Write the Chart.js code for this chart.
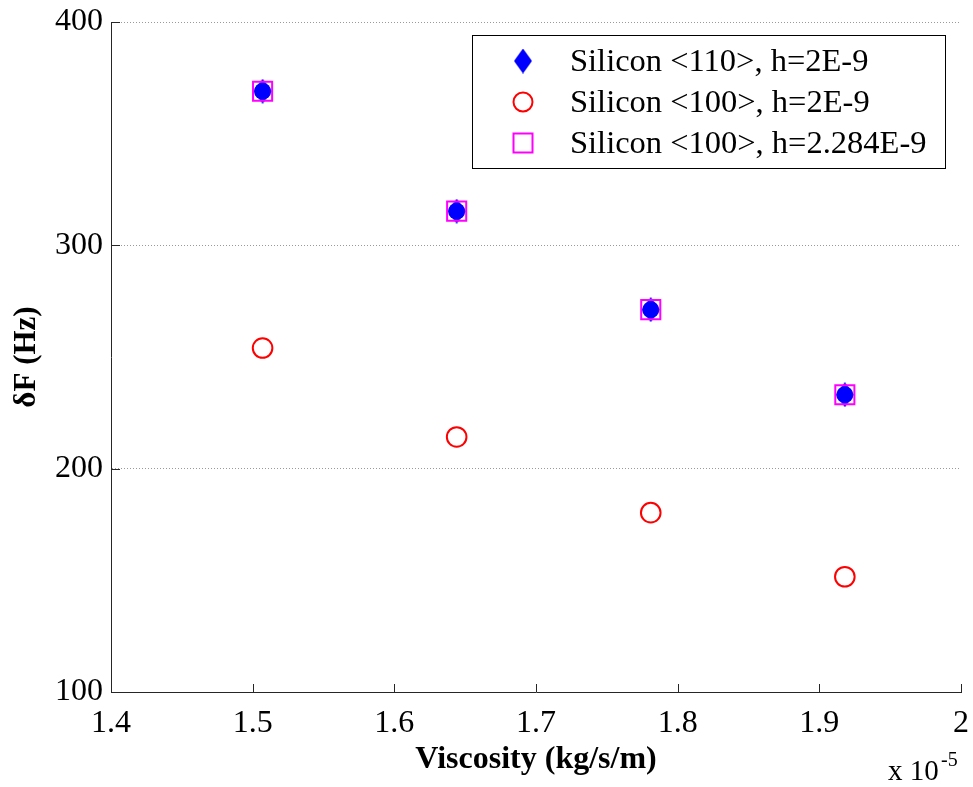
<!DOCTYPE html>
<html>
<head>
<meta charset="utf-8">
<script src="https://cdn.jsdelivr.net/npm/chart.js@4/dist/chart.umd.min.js"></script>
<style>
  html, body { margin: 0; padding: 0; background: #fff; }
  canvas { display: block; }
</style>
</head>
<body>
<canvas id="myChart" width="973" height="787"></canvas>
<script>
// viscosity in units of 1e-5 kg/s/m
var viscosity = [1.507, 1.644, 1.781, 1.918];
var si110 = [369, 315.3, 271.2, 233.1];
var si100 = [254, 214.2, 180.3, 151.6];
var si100b = [369, 315.3, 271.2, 233.1];
var seriesNames = ["Silicon <110>, h=2E-9", "Silicon <100>, h=2E-9", "Silicon <100>, h=2.284E-9"];
var xTicks = [1.4, 1.5, 1.6, 1.7, 1.8, 1.9, 2];
var yTicks = [100, 200, 300, 400];

var serif = "'Liberation Serif', 'Times New Roman', serif";

function toPoints(xs, ys) {
  var pts = [];
  for (var i = 0; i < xs.length; i++) {
    pts.push({x: xs[i], y: ys[i]});
  }
  return pts;
}

// tall blue diamond marker
function makeDiamond() {
  var c = document.createElement('canvas');
  c.width = 18;
  c.height = 25;
  var g = c.getContext('2d');
  g.fillStyle = '#0000ff';
  g.beginPath();
  g.moveTo(9, 0);
  g.lineTo(18, 12.5);
  g.lineTo(9, 25);
  g.lineTo(0, 12.5);
  g.closePath();
  g.fill();
  return c;
}
var diamond = makeDiamond();

// no extra room for overflowing tick labels, the area is fixed by layout padding
function noLabelPadding(scale) {
  scale.paddingTop = 0;
  scale.paddingBottom = 0;
  scale.paddingLeft = 0;
  scale.paddingRight = 0;
}

var insideTicks = {
  id: 'insideTicks',
  afterDraw: function(chart) {
    var ctx = chart.ctx;
    var xs = chart.scales.x, ys = chart.scales.y;
    var area = chart.chartArea;
    ctx.save();
    ctx.strokeStyle = '#262626';
    ctx.lineWidth = 1;
    ctx.beginPath();
    for (var i = 0; i < xTicks.length; i++) {
      var px = Math.round(xs.getPixelForValue(xTicks[i])) + 0.5;
      ctx.moveTo(px, area.bottom);
      ctx.lineTo(px, area.bottom - 8);
    }
    for (var j = 0; j < yTicks.length; j++) {
      var py = Math.round(ys.getPixelForValue(yTicks[j])) + 0.5;
      ctx.moveTo(area.left, py);
      ctx.lineTo(area.left + 9, py);
    }
    ctx.stroke();

    // exponent label
    ctx.fillStyle = '#000';
    ctx.textBaseline = 'alphabetic';
    ctx.textAlign = 'left';
    ctx.font = '29px ' + serif;
    ctx.fillText('x 10', 888, 780);
    ctx.font = '20px ' + serif;
    ctx.fillText('-5', 941, 766);

    // legend box
    var bx = 472, by = 35, bw = 473, bh = 133;
    ctx.fillStyle = '#fff';
    ctx.fillRect(bx, by, bw, bh);
    ctx.strokeStyle = '#000';
    ctx.strokeRect(bx + 0.5, by + 0.5, bw, bh);
    var rows = [61, 102, 143];
    var mx = 523;
    ctx.drawImage(diamond, mx - 9, rows[0] - 12.5);
    ctx.lineWidth = 2;
    ctx.strokeStyle = '#ff0000';
    ctx.beginPath();
    ctx.arc(mx, rows[1], 9.5, 0, Math.PI * 2);
    ctx.stroke();
    ctx.strokeStyle = '#ff00ff';
    ctx.strokeRect(mx - 9.5, rows[2] - 9.5, 19, 19);
    ctx.fillStyle = '#000';
    ctx.font = '32.5px ' + serif;
    ctx.textBaseline = 'middle';
    for (var k = 0; k < seriesNames.length; k++) {
      ctx.fillText(seriesNames[k], 570, rows[k] + 1);
    }
    ctx.restore();
  }
};

var ctx = document.getElementById('myChart');
var chart = new Chart(ctx, {
  type: 'scatter',
  data: {
    datasets: [{
      label: seriesNames[2],
      data: toPoints(viscosity, si100b),
      pointStyle: 'rect',
      pointRadius: 13.5,
      borderColor: '#ff00ff',
      backgroundColor: 'rgba(0,0,0,0)',
      borderWidth: 2,
      order: 0
    }, {
      label: 'blue dots',
      data: toPoints(viscosity, si110),
      pointStyle: 'circle',
      pointRadius: 8.5,
      borderWidth: 0,
      backgroundColor: '#0000ff',
      order: 1
    }, {
      label: seriesNames[0],
      data: toPoints(viscosity, si110),
      pointStyle: diamond,
      order: 2
    }, {
      label: seriesNames[1],
      data: toPoints(viscosity, si100),
      pointStyle: 'circle',
      pointRadius: 9.8,
      borderColor: '#ff0000',
      backgroundColor: 'rgba(0,0,0,0)',
      borderWidth: 2,
      order: 3
    }]
  },
  options: {
    responsive: false,
    animation: false,
    layout: { autoPadding: false, padding: { left: 0, top: 22, right: 12, bottom: 0 } },
    plugins: {
      legend: { display: false },
      tooltip: { enabled: false }
    },
    scales: {
      x: {
        type: 'linear',
        min: 1.4,
        max: 2,
        afterBuildTicks: function(scale) {
          scale.ticks = xTicks.map(function(v) { return {value: v}; });
        },
        afterFit: function(scale) {
          scale.height = 95;
          noLabelPadding(scale);
        },
        ticks: {
          color: '#000',
          font: { family: serif, size: 32 },
          padding: 12,
          maxRotation: 0,
          callback: function(v) { return String(v); }
        },
        grid: { display: false, drawTicks: false },
        border: { display: true, color: '#262626', width: 1 },
        title: {
          display: true,
          text: 'Viscosity (kg/s/m)',
          color: '#000',
          font: { family: serif, size: 32, weight: 'bold' },
          padding: { top: 0, bottom: 8 }
        }
      },
      y: {
        type: 'linear',
        min: 100,
        max: 400,
        afterBuildTicks: function(scale) {
          scale.ticks = yTicks.map(function(v) { return {value: v}; });
        },
        afterFit: function(scale) {
          scale.width = 111;
          noLabelPadding(scale);
        },
        ticks: {
          color: '#000',
          font: { family: serif, size: 32 },
          padding: 8
        },
        grid: {
          drawTicks: false,
          color: function(c) { return c.tick && c.tick.value === 100 ? 'rgba(0,0,0,0)' : '#9a9a9a'; },
          lineWidth: 1,
          tickBorderDash: [1, 2]
        },
        border: { display: true, color: '#262626', width: 1, dash: [1, 2] },
        title: {
          display: true,
          text: 'δF (Hz)',
          color: '#000',
          font: { family: serif, size: 31, weight: 'bold' },
          padding: { top: 8, bottom: 0 }
        }
      }
    }
  },
  plugins: [insideTicks]
});
</script>
</body>
</html>
